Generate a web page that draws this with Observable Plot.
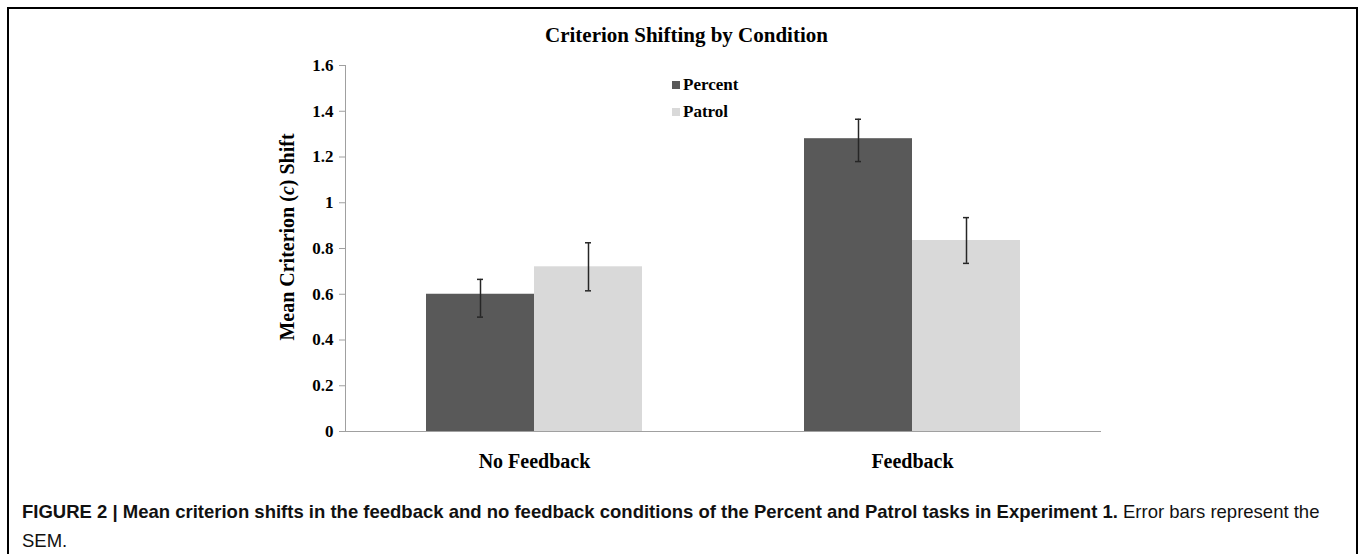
<!DOCTYPE html>
<html>
<head>
<meta charset="utf-8">
<script src="https://cdn.jsdelivr.net/npm/d3@7"></script>
<script src="https://cdn.jsdelivr.net/npm/@observablehq/plot@0.6"></script>
<style>
  html, body { margin: 0; padding: 0; background: #fff; width: 1358px; height: 554px; overflow: hidden; }
  .abs { position: absolute; }
  #frame { left: 7px; top: 7px; width: 1351px; height: 620px; border: 2px solid #000; box-sizing: border-box; }
  #title { left: 545px; top: 25px; text-align: left; font: bold 21px "Liberation Serif", serif; line-height: 21px; white-space: nowrap; }
  #ylabel { left: 137px; width: 300px; top: 226px; text-align: center; font: bold 20px "Liberation Serif", serif; line-height: 22px; transform: rotate(-90deg); white-space: nowrap; }
  .leg { font: bold 17px "Liberation Serif", serif; line-height: 17px; white-space: nowrap; display: flex; align-items: center; }
  .sw { display: inline-block; width: 8px; height: 8px; margin-right: 3px; }
  #caption { left: 22px; top: 497px; font: 18.5px "Liberation Sans", Arial, sans-serif; line-height: 29px; color: #111; white-space: nowrap; }
  #chart { left: 0; top: 0; }
</style>
</head>
<body>
<div id="frame" class="abs"></div>
<div id="title" class="abs">Criterion Shifting by Condition</div>
<div id="ylabel" class="abs">Mean Criterion (<i>c</i>) Shift</div>
<div id="legend"></div>
<div id="chart" class="abs"></div>
<div id="caption" class="abs"><b>FIGURE 2 | Mean criterion shifts in the feedback and no feedback conditions of the Percent and Patrol tasks in Experiment 1.</b> Error bars represent the<br>SEM.</div>
<script>
// ---- data ----
const categories = ["No Feedback", "Feedback"];
const series = ["Percent", "Patrol"];
const percentMeans = [0.60, 1.28];
const patrolMeans = [0.72, 0.835];
const percentLow = [0.50, 1.18];
const percentHigh = [0.665, 1.365];
const patrolLow = [0.615, 0.735];
const patrolHigh = [0.825, 0.935];
const yTicks = [0, 0.2, 0.4, 0.6, 0.8, 1, 1.2, 1.4, 1.6];
const yTickLabels = ["0", "0.2", "0.4", "0.6", "0.8", "1", "1.2", "1.4", "1.6"];
const seriesColors = ["#595959", "#d9d9d9"];

const rows = categories.flatMap((c, i) => [
  {category: c, series: "Percent", value: percentMeans[i], lo: percentLow[i], hi: percentHigh[i]},
  {category: c, series: "Patrol", value: patrolMeans[i], lo: patrolLow[i], hi: patrolHigh[i]}
]);

const chart = Plot.plot({
  width: 1358,
  height: 480,
  marginLeft: 345,
  marginRight: 257,
  marginTop: 65,
  marginBottom: 49,
  style: {fontFamily: "'Liberation Serif', serif", fontWeight: "bold", fontSize: "17px", color: "#000", background: "transparent", overflow: "visible"},
  fx: {domain: categories, padding: 0, label: null, axis: null},
  x: {domain: series, paddingInner: 0, paddingOuter: 0.75, axis: null},
  y: {domain: [0, 1.6], axis: null},
  color: {domain: series, range: seriesColors},
  marks: [
    Plot.axisY({ticks: yTicks, tickFormat: d => yTickLabels[yTicks.indexOf(d)], tickSize: 6, tickPadding: 6, stroke: "#a0a0a0", fill: "#000", fontSize: 17, label: null}),
    Plot.frame({anchor: "left", stroke: "#a0a0a0", facetAnchor: "left"}),
    Plot.barY(rows, {fx: "category", x: "series", y: "value", fill: "series"}),
    Plot.ruleY([0], {stroke: "#a0a0a0"}),
    Plot.ruleX(rows, {fx: "category", x: "series", y1: "lo", y2: "hi", stroke: "#262626", strokeWidth: 1.5}),
    Plot.tickY(rows, {fx: "category", x: "series", y: "lo", stroke: "#262626", strokeWidth: 1.5, insetLeft: 51, insetRight: 51}),
    Plot.tickY(rows, {fx: "category", x: "series", y: "hi", stroke: "#262626", strokeWidth: 1.5, insetLeft: 51, insetRight: 51}),
    Plot.axisFx({anchor: "bottom", tickSize: 0, tickPadding: 22, fontSize: 20, label: null})
  ]
});
document.getElementById("chart").appendChild(chart);

// legend (HTML) built from series + colors
const legend = document.getElementById("legend");
const legendTops = [76, 103];
series.forEach((s, i) => {
  const row = document.createElement("div");
  row.className = "abs leg";
  row.style.left = "672px";
  row.style.top = legendTops[i] + "px";
  const sw = document.createElement("span");
  sw.className = "sw";
  sw.style.background = seriesColors[i];
  row.appendChild(sw);
  row.appendChild(document.createTextNode(s));
  legend.appendChild(row);
});
</script>
</body>
</html>
